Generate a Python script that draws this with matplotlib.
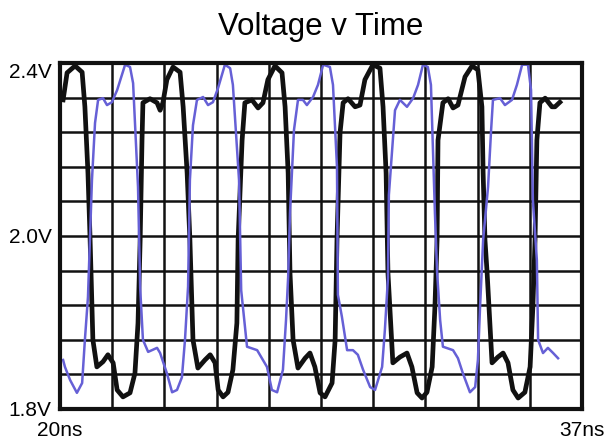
import numpy as np
import matplotlib
matplotlib.use('Agg')
import matplotlib.pyplot as plt

plt.rcParams['font.family'] = ['Liberation Sans', 'DejaVu Sans']

# Traço preto (ns, V)
t_preto = [20.10, 20.23, 20.49, 20.72, 20.81, 20.91, 20.98, 21.07, 21.20, 21.40, 21.56, 21.73,
           21.86, 22.05, 22.28, 22.44, 22.54, 22.61, 22.67, 22.70, 22.93, 23.16, 23.26, 23.35,
           23.48, 23.68, 23.91, 24.01, 24.14, 24.23, 24.33, 24.49, 24.72, 24.89, 25.05, 25.15,
           25.31, 25.47, 25.63, 25.76, 25.80, 25.93, 26.02, 26.25, 26.45, 26.61, 26.77, 27.00,
           27.23, 27.33, 27.43, 27.49, 27.59, 27.75, 27.98, 28.14, 28.30, 28.47, 28.63, 28.86,
           28.96, 29.02, 29.12, 29.22, 29.38, 29.61, 29.77, 29.93, 30.19, 30.42, 30.52, 30.62,
           30.68, 30.84, 31.07, 31.30, 31.46, 31.63, 31.79, 31.95, 32.12, 32.21, 32.28, 32.31,
           32.47, 32.64, 32.80, 32.96, 33.19, 33.42, 33.61, 33.74, 33.78, 33.84, 33.91, 34.07,
           34.26, 34.43, 34.59, 34.75, 34.92, 35.14, 35.31, 35.40, 35.47, 35.53, 35.63, 35.80,
           36.02, 36.12, 36.28]
v_preto = [2.336, 2.383, 2.395, 2.384, 2.324, 2.209, 2.093, 1.920, 1.873, 1.882, 1.894, 1.880,
           1.833, 1.821, 1.828, 1.862, 1.949, 2.093, 2.266, 2.331, 2.338, 2.331, 2.318, 2.331,
           2.371, 2.393, 2.384, 2.324, 2.209, 2.093, 1.920, 1.871, 1.885, 1.894, 1.880, 1.833,
           1.821, 1.829, 1.868, 1.949, 2.093, 2.266, 2.331, 2.336, 2.322, 2.331, 2.371, 2.395,
           2.383, 2.324, 2.209, 2.036, 1.920, 1.871, 1.888, 1.897, 1.873, 1.828, 1.821, 1.845,
           1.920, 2.093, 2.279, 2.331, 2.338, 2.324, 2.327, 2.371, 2.397, 2.391, 2.324, 2.209,
           2.036, 1.880, 1.890, 1.897, 1.873, 1.828, 1.819, 1.829, 1.873, 1.977, 2.093, 2.266,
           2.331, 2.338, 2.322, 2.327, 2.376, 2.395, 2.388, 2.324, 2.209, 2.093, 2.036, 1.880,
           1.890, 1.897, 1.880, 1.833, 1.819, 1.829, 1.873, 1.977, 2.093, 2.266, 2.331, 2.339,
           2.324, 2.324, 2.332]

# Traço azul (ns, V)
t_azul = [20.10, 20.16, 20.33, 20.55, 20.72, 20.81, 20.91, 21.04, 21.14, 21.24, 21.40, 21.53,
          21.69, 21.86, 22.12, 22.28, 22.38, 22.54, 22.61, 22.70, 22.87, 23.16, 23.26, 23.48,
          23.65, 23.81, 23.97, 24.07, 24.17, 24.23, 24.33, 24.46, 24.66, 24.82, 24.98, 25.15,
          25.37, 25.54, 25.63, 25.83, 25.90, 26.09, 26.42, 26.74, 26.90, 27.07, 27.26, 27.36,
          27.43, 27.49, 27.62, 27.75, 27.91, 28.04, 28.24, 28.40, 28.57, 28.79, 28.89, 29.02,
          29.05, 29.18, 29.35, 29.54, 29.70, 29.87, 30.10, 30.26, 30.49, 30.58, 30.68, 30.71,
          30.91, 31.07, 31.30, 31.50, 31.66, 31.82, 31.98, 32.08, 32.21, 32.28, 32.38, 32.47,
          32.80, 32.96, 33.12, 33.35, 33.52, 33.61, 33.68, 33.78, 33.94, 34.04, 34.10, 34.33,
          34.49, 34.72, 34.88, 35.05, 35.24, 35.34, 35.40, 35.53, 35.57, 35.73, 35.89, 36.06,
          36.22]
v_azul = [1.885, 1.873, 1.850, 1.828, 1.845, 1.920, 1.994, 2.197, 2.296, 2.336, 2.339, 2.327,
          2.332, 2.353, 2.397, 2.393, 2.365, 2.185, 2.010, 1.920, 1.899, 1.906, 1.897, 1.862,
          1.829, 1.833, 1.855, 1.920, 2.012, 2.197, 2.292, 2.336, 2.341, 2.327, 2.332, 2.357,
          2.397, 2.391, 2.362, 2.197, 2.006, 1.908, 1.902, 1.873, 1.833, 1.829, 1.868, 1.954,
          2.029, 2.140, 2.284, 2.336, 2.336, 2.327, 2.341, 2.362, 2.397, 2.393, 2.362, 2.220,
          1.998, 1.960, 1.902, 1.902, 1.894, 1.868, 1.838, 1.833, 1.873, 1.937, 2.027, 2.171,
          2.318, 2.336, 2.324, 2.339, 2.362, 2.397, 2.393, 2.362, 2.140, 2.038, 1.954, 1.908,
          1.902, 1.888, 1.862, 1.829, 1.838, 1.885, 1.977, 2.093, 2.185, 2.284, 2.336, 2.339,
          2.327, 2.336, 2.362, 2.397, 2.397, 2.353, 2.162, 2.058, 1.920, 1.897, 1.906, 1.897,
          1.888]

# Eixos
t_min, t_max = 20, 37
v_min, v_max = 1.8, 2.4
rotulos_x = ['20ns', '37ns']
pos_y = [1.8, 2.1, 2.4]
rotulos_y = ['1.8V', '2.0V', '2.4V']

fig = plt.figure(figsize=(6.10, 4.41), dpi=100)
ax = fig.add_axes([0.0984, 0.0726, 0.8557, 0.7846])

# grade tipo osciloscópio
ax.set_xticks(np.linspace(t_min, t_max, 11), minor=True)
ax.set_yticks(np.linspace(v_min, v_max, 11), minor=True)
ax.grid(which='both', color='#111111', linewidth=1.8)
ax.set_axisbelow(True)

ax.plot(t_preto, v_preto, color='#111111', linewidth=3.4, solid_joinstyle='round')
ax.plot(t_azul, v_azul, color='#6660d6', linewidth=1.8, solid_joinstyle='round')

ax.set_xlim(t_min, t_max)
ax.set_ylim(v_min, v_max)
ax.set_xticks([t_min, t_max])
ax.set_xticklabels(rotulos_x)
ax.set_yticks(pos_y)
ax.set_yticklabels(rotulos_y)
ax.get_yticklabels()[2].set_verticalalignment('top')
ax.tick_params(which='both', length=0, labelsize=15)
ax.tick_params(axis='x', pad=9)
ax.tick_params(axis='y', pad=6)

for lado in ax.spines.values():
    lado.set_linewidth(3.0)
    lado.set_color('#111111')

ax.set_title('Voltage v Time', fontsize=22.5, pad=20)

plt.savefig('out.png', dpi=100)
